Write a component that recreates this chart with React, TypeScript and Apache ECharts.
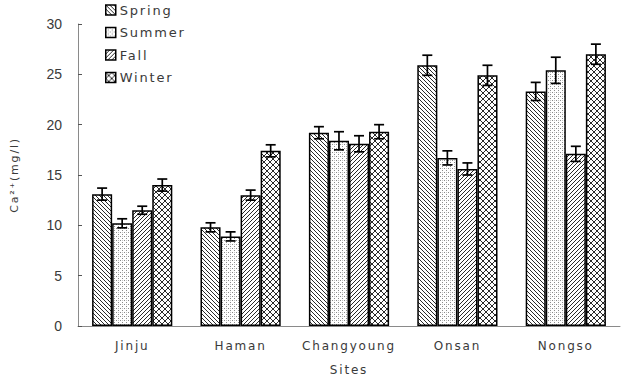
import React, { useEffect, useRef } from 'react';
import * as echarts from 'echarts';

// Calcium concentration by sampling site and season
const sites = ['Jinju', 'Haman', 'Changyoung', 'Onsan', 'Nongso'];
const seasons = ['Spring', 'Summer', 'Fall', 'Winter'];
const spring = [13.1, 9.8, 19.2, 25.9, 23.3];
const summer = [10.2, 8.9, 18.4, 16.7, 25.4];
const fall = [11.5, 13.0, 18.1, 15.6, 17.1];
const winter = [14.0, 17.4, 19.3, 24.9, 27.0];
const springErr = [0.6, 0.45, 0.6, 1.0, 0.9];
const summerErr = [0.45, 0.45, 0.9, 0.7, 1.3];
const fallErr = [0.4, 0.5, 0.8, 0.6, 0.75];
const winterErr = [0.6, 0.6, 0.7, 1.0, 1.0];

const means = [spring, summer, fall, winter];
const errs = [springErr, summerErr, fallErr, winterErr];

type Px = (g: CanvasRenderingContext2D, s: number) => void;

function makePattern(size: number, draw: Px) {
  const c = document.createElement('canvas');
  c.width = size;
  c.height = size;
  const g = c.getContext('2d')!;
  g.fillStyle = '#ffffff';
  g.fillRect(0, 0, size, size);
  draw(g, size);
  return { image: c.toDataURL(), repeat: 'repeat', imageWidth: size, imageHeight: size };
}

function buildFills() {
  const back = makePattern(4, (g, s) => {
    g.fillStyle = '#2a2a2a';
    for (let i = 0; i < s; i++) g.fillRect(i, i, 1, 1);
  });
  const dots = makePattern(4, (g) => {
    g.fillStyle = '#8a8a8a';
    g.fillRect(0, 0, 1, 1);
    g.fillRect(2, 2, 1, 1);
    g.fillStyle = '#c4c4c4';
    g.fillRect(2, 0, 1, 1);
  });
  const fwd = makePattern(4, (g, s) => {
    g.fillStyle = '#2a2a2a';
    for (let i = 0; i < s; i++) g.fillRect(i, s - 1 - i, 1, 1);
  });
  const cross = makePattern(6, (g, s) => {
    g.fillStyle = '#2a2a2a';
    for (let i = 0; i < s; i++) {
      g.fillRect(i, i, 1, 1);
      g.fillRect(i, s - 1 - i, 1, 1);
    }
  });
  return [back, dots, fwd, cross];
}

const CAT_GAP = 0.26;
const WIDE = 'DejaVu Sans';
const NARROW = 'Liberation Sans';
const INK = '#3a3a3a';

export default function App() {
  const ref = useRef<HTMLDivElement>(null);

  useEffect(() => {
    if (!ref.current) return;
    const chart = echarts.init(ref.current, null, { renderer: 'svg' });
    const fills = buildFills();

    const barSeries = seasons.map((name, k) => ({
      name,
      type: 'bar',
      data: means[k],
      barGap: '0%',
      barCategoryGap: CAT_GAP * 100 + '%',
      itemStyle: { color: fills[k] as any, borderColor: '#000', borderWidth: 1.5 },
      emphasis: { disabled: true },
    }));

    const errData: number[][] = [];
    sites.forEach((_, i) => {
      seasons.forEach((__, k) => {
        errData.push([i, means[k][i] - errs[k][i], means[k][i] + errs[k][i], k]);
      });
    });

    const errSeries = {
      type: 'custom',
      name: 'err',
      data: errData,
      encode: { x: 0, y: [1, 2] },
      z: 10,
      renderItem: (params: any, api: any) => {
        const ci = api.value(0);
        const k = api.value(3);
        const band = api.size([1, 0])[0];
        const bw = (band * (1 - CAT_GAP)) / 4;
        const lo = api.coord([ci, api.value(1)]);
        const hi = api.coord([ci, api.value(2)]);
        const x = lo[0] + (k - 1.5) * bw;
        const cap = 5;
        const st = { stroke: '#000', lineWidth: 1.7 };
        return {
          type: 'group',
          children: [
            { type: 'line', shape: { x1: x, y1: lo[1], x2: x, y2: hi[1] }, style: st },
            { type: 'line', shape: { x1: x - cap, y1: lo[1], x2: x + cap, y2: lo[1] }, style: st },
            { type: 'line', shape: { x1: x - cap, y1: hi[1], x2: x + cap, y2: hi[1] }, style: st },
          ],
        };
      },
    };

    chart.setOption({
      animation: false,
      backgroundColor: '#ffffff',
      textStyle: { fontFamily: WIDE },
      grid: { left: 78, right: 11, top: 24, bottom: 57 },
      legend: {
        data: seasons,
        orient: 'vertical',
        left: 105,
        top: 3,
        padding: 0,
        itemWidth: 10,
        itemHeight: 10,
        itemGap: 8.5,
        icon: 'rect',
        textStyle: { fontSize: 13, lineHeight: 14, color: INK, fontFamily: WIDE, padding: [0, 0, 0, -1] },
        itemStyle: { borderColor: '#000', borderWidth: 1.5 },
      },
      xAxis: {
        type: 'category',
        data: sites,
        name: 'Sites',
        nameLocation: 'middle',
        nameGap: 38,
        nameTextStyle: { fontSize: 12, color: INK, fontFamily: WIDE },
        axisLine: { lineStyle: { color: '#8a8a8a', width: 1 } },
        axisTick: { inside: true, length: 4, lineStyle: { color: '#8a8a8a' } },
        axisLabel: { fontSize: 12, color: INK, margin: 14, fontFamily: WIDE },
      },
      yAxis: {
        type: 'value',
        min: 0,
        max: 30,
        interval: 5,
        name: 'Ca²⁺(mg/l)',
        nameLocation: 'middle',
        nameRotate: 90,
        nameGap: 58,
        nameTextStyle: { fontSize: 11, color: INK, fontFamily: WIDE },
        axisLine: { show: true, lineStyle: { color: '#8a8a8a', width: 1 } },
        axisTick: { show: true, inside: true, length: 4, lineStyle: { color: '#555' } },
        axisLabel: { fontSize: 14, color: INK, margin: 16, fontFamily: NARROW },
        splitLine: { show: false },
      },
      series: [...barSeries, errSeries],
    } as any);

    return () => chart.dispose();
  }, []);

  return (
    <>
      <style>{`svg text[style*="DejaVu"] { letter-spacing: 1.8px; }`}</style>
      <div
        ref={ref}
        style={{ position: 'fixed', left: 0, top: 0, width: 631, height: 383 }}
      />
    </>
  );
}
